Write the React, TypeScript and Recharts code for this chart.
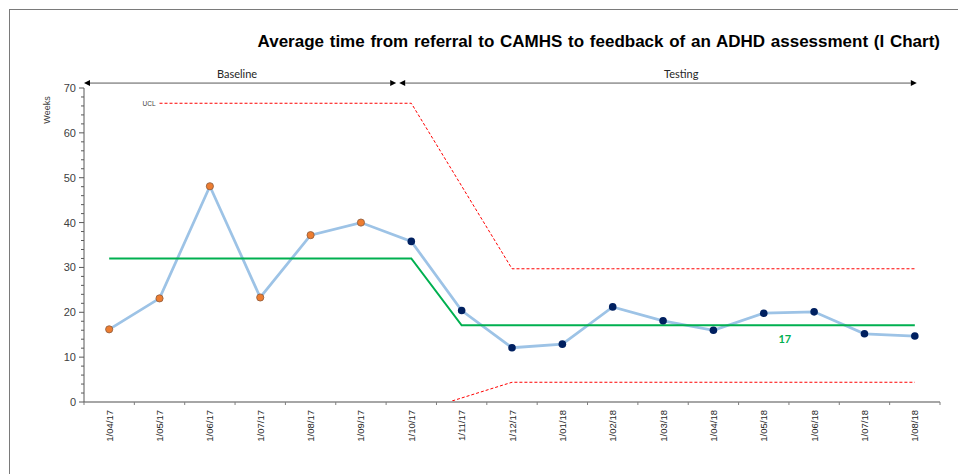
import React from 'react';
import { LineChart, Line, XAxis, YAxis, ReferenceLine, LabelList, Label } from 'recharts';

const CATEGORIES = [
  '1/04/17', '1/05/17', '1/06/17', '1/07/17', '1/08/17', '1/09/17', '1/10/17', '1/11/17', '1/12/17',
  '1/01/18', '1/02/18', '1/03/18', '1/04/18', '1/05/18', '1/06/18', '1/07/18', '1/08/18',
];
const WEEKS = [16.2, 23.1, 48.1, 23.3, 37.2, 40.0, 35.8, 20.4, 12.1, 12.9, 21.2, 18.1, 16.0, 19.8, 20.1, 15.2, 14.7];
const MEAN = [32, 32, 32, 32, 32, 32, 32, 17.1, 17.1, 17.1, 17.1, 17.1, 17.1, 17.1, 17.1, 17.1, 17.1];
const UCL = [null, 66.6, 66.6, 66.6, 66.6, 66.6, 66.6, null, 29.7, 29.7, 29.7, 29.7, 29.7, 29.7, 29.7, 29.7, 29.7];
const LCL = [-2.6, -2.6, -2.6, -2.6, -2.6, -2.6, -2.6, null, 4.4, 4.4, 4.4, 4.4, 4.4, 4.4, 4.4, 4.4, 4.4];
const BASELINE_POINTS = 6;
const MEAN_LABEL_INDEX = 13;
const MEAN_LABEL = '17';

// phase arrows: category at each end plus a nudge in fractions of a band
const PHASES = [
  { label: 'Baseline', from: '1/04/17', fromNudge: -0.5, to: '1/10/17', toNudge: -0.3, labelShift: -0.06 },
  { label: 'Testing', from: '1/10/17', fromNudge: -0.24, to: '1/08/18', toNudge: 0.04, labelShift: 0.46 },
];

const Y_TICKS = Array.from({ length: 36 }, (_, i) => i * 2);

const W = 958;
const H = 474;
const PLOT_W = 856;
const BAND = PLOT_W / CATEGORIES.length;
const FONT = '"Liberation Sans", Arial, sans-serif';

const data = CATEGORIES.map((c, i) => ({
  month: c,
  weeks: WEEKS[i],
  mean: MEAN[i],
  ucl: UCL[i],
  lcl: LCL[i],
}));

function XTick(props: any) {
  const { x, y, payload, index } = props;
  const half = BAND / 2;
  return (
    <g>
      <line x1={x - half} y1={y} x2={x - half} y2={y + 3} stroke="#7f7f7f" />
      {index === CATEGORIES.length - 1 && (
        <line x1={x + half} y1={y} x2={x + half} y2={y + 3} stroke="#7f7f7f" />
      )}
      <text
        transform={`translate(${x},${y + 8}) rotate(-90)`}
        textAnchor="end"
        dominantBaseline="central"
        fontSize={9.5}
        fontFamily={FONT}
        fill="#262626"
      >
        {payload.value}
      </text>
    </g>
  );
}

function YTick(props: any) {
  const { x, y, payload } = props;
  const major = payload.value % 10 === 0;
  return (
    <g>
      <line x1={x - (major ? 5 : 3)} y1={y} x2={x} y2={y} stroke="#595959" />
      {major && (
        <text x={x - 8} y={y} textAnchor="end" dominantBaseline="central" fontSize={11} fontFamily={FONT} fill="#404040">
          {payload.value}
        </text>
      )}
    </g>
  );
}

function WeeksLabel(props: any) {
  const { x, y } = props.viewBox;
  return (
    <text
      transform={`translate(${x + 3},${y + 22}) rotate(-90)`}
      textAnchor="middle"
      dominantBaseline="central"
      fontSize={9}
      fontFamily={FONT}
      fill="#404040"
    >
      Weeks
    </text>
  );
}

function Arrow(props: any) {
  const { x1: rawX1, y1, x2: rawX2, phase } = props;
  const x1 = rawX1 + phase.fromNudge * BAND;
  const x2 = rawX2 + phase.toNudge * BAND;
  const s = 6;
  return (
    <g>
      <line x1={x1 + s} y1={y1} x2={x2 - s} y2={y1} stroke="#595959" strokeWidth={1} />
      <polygon points={`${x1},${y1} ${x1 + s},${y1 - 3} ${x1 + s},${y1 + 3}`} fill="#000" />
      <polygon points={`${x2},${y1} ${x2 - s},${y1 - 3} ${x2 - s},${y1 + 3}`} fill="#000" />
      <text
        x={(x1 + x2) / 2 + phase.labelShift * BAND}
        y={y1 - 10}
        textAnchor="middle"
        dominantBaseline="central"
        fontSize={11}
        fontFamily="Lato, sans-serif"
        fill="#262626"
      >
        {phase.label}
      </text>
    </g>
  );
}

function Dot(props: any) {
  const { cx, cy, index } = props;
  if (cx == null || cy == null) return null;
  if (index < BASELINE_POINTS) {
    return <circle key={index} cx={cx} cy={cy} r={3.6} fill="#ED7D31" stroke="#8c5a3c" strokeWidth={0.8} />;
  }
  return <circle key={index} cx={cx} cy={cy} r={3.8} fill="#002060" />;
}

function UclLabel(props: any) {
  const { x, y, index } = props;
  if (index !== 1) return null;
  return (
    <text x={x - 4} y={y} textAnchor="end" dominantBaseline="central" fontSize={6.5} fontFamily={FONT} fill="#404040">
      UCL
    </text>
  );
}

function MeanLabel(props: any) {
  const { x, y, index } = props;
  if (index !== MEAN_LABEL_INDEX) return null;
  return (
    <text x={x + 21} y={y + 13} textAnchor="middle" dominantBaseline="central" fontSize={11} fontWeight="bold" fontFamily="Lato, sans-serif" fill="#00B050">
      {MEAN_LABEL}
    </text>
  );
}

export default function App() {
  return (
    <div style={{ position: 'absolute', left: 0, top: 0, width: W, height: H, background: '#fff', overflow: 'hidden' }}>
      <div style={{ position: 'absolute', left: 9, top: 9, width: W + 20, height: H + 20, border: '1px solid #7a7a7a' }} />
      <div
        style={{
          position: 'absolute',
          right: 18,
          top: 32,
          fontFamily: FONT,
          fontWeight: 'bold',
          fontSize: 17,
          wordSpacing: 1,
          color: '#000',
          whiteSpace: 'nowrap',
        }}
      >
        Average time from referral to CAMHS to feedback of an ADHD assessment (I Chart)
      </div>
      <div style={{ position: 'absolute', left: 0, top: 0 }}>
        <LineChart width={W} height={H} data={data} margin={{ top: 88, right: 18, bottom: 12, left: 44 }}>
          <XAxis
            dataKey="month"
            interval={0}
            padding={{ left: BAND / 2, right: BAND / 2 }}
            height={60}
            tickSize={0}
            tickMargin={0}
            tickLine={false}
            axisLine={{ stroke: '#a6a6a6', strokeWidth: 2 }}
            tick={<XTick />}
          />
          <YAxis
            domain={[0, 70]}
            ticks={Y_TICKS}
            allowDataOverflow
            width={40}
            tickSize={0}
            tickMargin={0}
            tickLine={false}
            axisLine={{ stroke: '#595959' }}
            tick={<YTick />}
            interval={0}
          >
            <Label content={<WeeksLabel />} />
          </YAxis>
          {PHASES.map((p) => (
            <ReferenceLine
              key={p.label}
              ifOverflow="visible"
              segment={[
                { x: p.from, y: 71.1 },
                { x: p.to, y: 71.1 },
              ]}
              shape={<Arrow phase={p} />}
            />
          ))}
          <Line
            dataKey="weeks"
            stroke="#9DC3E6"
            strokeWidth={2.75}
            dot={<Dot />}
            activeDot={false}
            isAnimationActive={false}
          />
          <Line dataKey="mean" stroke="#00B050" strokeWidth={2} dot={false} activeDot={false} isAnimationActive={false}>
            <LabelList dataKey="mean" content={<MeanLabel />} />
          </Line>
          <Line
            dataKey="ucl"
            stroke="#FF0000"
            strokeWidth={1}
            strokeDasharray="3 2"
            connectNulls
            dot={false}
            activeDot={false}
            isAnimationActive={false}
          >
            <LabelList dataKey="ucl" content={<UclLabel />} />
          </Line>
          <Line
            dataKey="lcl"
            stroke="#FF0000"
            strokeWidth={1}
            strokeDasharray="3 2"
            connectNulls
            dot={false}
            activeDot={false}
            isAnimationActive={false}
          />
        </LineChart>
      </div>
    </div>
  );
}
